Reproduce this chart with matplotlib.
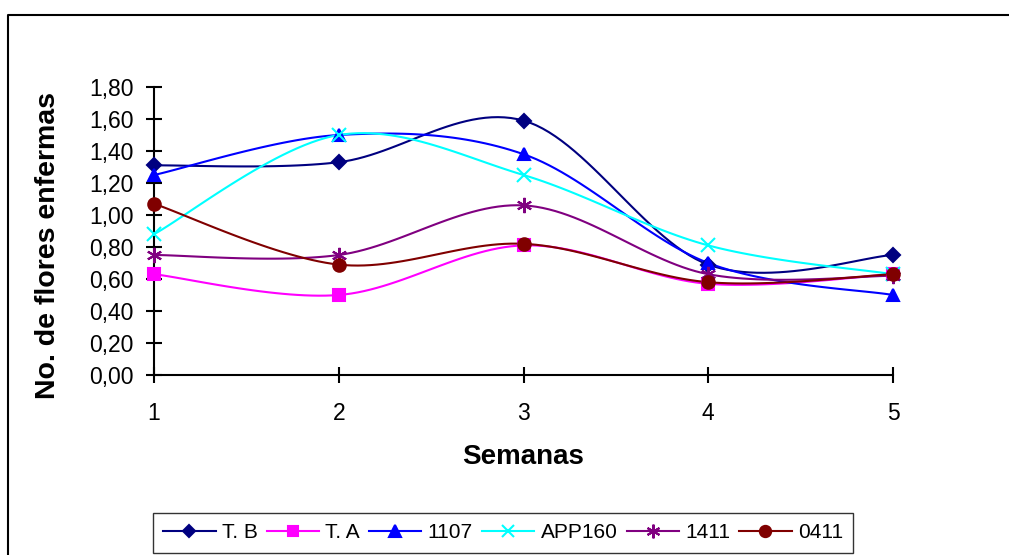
import numpy as np
import matplotlib
matplotlib.use("Agg")
import matplotlib.pyplot as plt
from matplotlib.lines import Line2D

plt.rcParams["font.family"] = ["Liberation Sans", "DejaVu Sans"]

semanas = [1, 2, 3, 4, 5]
series_names = ["T. B", "T. A", "1107", "APP160", "1411", "0411"]
tb = [1.31, 1.33, 1.59, 0.69, 0.75]
ta = [0.63, 0.50, 0.81, 0.57, 0.63]
s1107 = [1.25, 1.50, 1.38, 0.70, 0.50]
app160 = [0.88, 1.50, 1.25, 0.81, 0.63]
s1411 = [0.75, 0.75, 1.06, 0.63, 0.62]
s0411 = [1.07, 0.69, 0.82, 0.58, 0.63]
y_ticks = [0.0, 0.2, 0.4, 0.6, 0.8, 1.0, 1.2, 1.4, 1.6, 1.8]
y_tick_labels = ["0,00", "0,20", "0,40", "0,60", "0,80", "1,00", "1,20", "1,40", "1,60", "1,80"]

colors = ["#000080", "#FF00FF", "#0000FF", "#00FFFF", "#800080", "#800000"]
markers = ["D", "s", "^", "x", (6, 2, 0), "o"]
msizes = [7, 8, 9, 10, 11, 9]


def smooth(x, y, n=30):
    """Excel-like smoothed line: Catmull-Rom through the points as cubic Beziers."""
    p = np.column_stack([x, y]).astype(float)
    ext = np.vstack([p[0], p, p[-1]])
    t = np.linspace(0, 1, n)[:, None]
    out = []
    for i in range(len(p) - 1):
        p0, p3 = ext[i + 1], ext[i + 2]
        c1 = p0 + (ext[i + 2] - ext[i]) / 6
        c2 = p3 - (ext[i + 3] - ext[i + 1]) / 6
        seg = ((1 - t) ** 3) * p0 + 3 * ((1 - t) ** 2) * t * c1 + 3 * (1 - t) * t ** 2 * c2 + t ** 3 * p3
        out.append(seg if i == 0 else seg[1:])
    out = np.vstack(out)
    return out[:, 0], out[:, 1]


fig = plt.figure(figsize=(10.09, 5.55), dpi=100)
ax = fig.add_axes([154 / 1009, 1 - 375 / 555, (893 - 154) / 1009, (375 - 87) / 555])

all_series = [tb, ta, s1107, app160, s1411, s0411]
handles = []
for name, vals, c, m, ms in zip(series_names, all_series, colors, markers, msizes):
    xs, ys = smooth(semanas, vals)
    ax.plot(xs, ys, color=c, lw=1.5, clip_on=False, zorder=3)
    ax.plot(semanas, vals, ls="none", marker=m, ms=ms, color=c, mfc=c,
            mew=1.5, clip_on=False, zorder=4)
    handles.append(Line2D([], [], color=c, lw=1.5, marker=m, ms=ms * 0.9, mew=1.5, label=name))

ax.set_xlim(1, 5)
ax.set_ylim(0, 1.8)
ax.set_xticks(semanas)
ax.set_yticks(y_ticks)
ax.set_yticklabels(y_tick_labels)
for s in ["top", "right"]:
    ax.spines[s].set_visible(False)
for s in ["left", "bottom"]:
    ax.spines[s].set_linewidth(1.5)
ax.tick_params(direction="inout", length=11.5, width=1.5, labelsize=16.5)
ax.tick_params(axis="y", pad=9)
ax.tick_params(axis="x", pad=14)

ax.set_xlabel("Semanas", fontsize=20, fontweight="bold", va="center")
ax.xaxis.set_label_coords(0.5, -0.285)
ax.set_ylabel("No. de flores enfermas", fontsize=20.5, fontweight="bold", va="center")
ax.yaxis.set_label_coords(-0.143, 0.451)

leg = fig.legend(handles=handles, loc="upper left", bbox_to_anchor=(153 / 1009, 1 - 513 / 555),
                 ncol=6, fontsize=15, frameon=True, fancybox=False, handlelength=2.5,
                 handletextpad=0.3, columnspacing=0.45, borderpad=0.5, borderaxespad=0)
leg.get_frame().set_edgecolor("black")
leg.get_frame().set_linewidth(1.0)

# outer chart border (top and left edges visible)
fig.add_artist(Line2D([8 / 1009, 8 / 1009, 1.0], [0.0, 1 - 15 / 555, 1 - 15 / 555],
                      transform=fig.transFigure, color="black", lw=1.5))

fig.savefig("out.png", dpi=100)
